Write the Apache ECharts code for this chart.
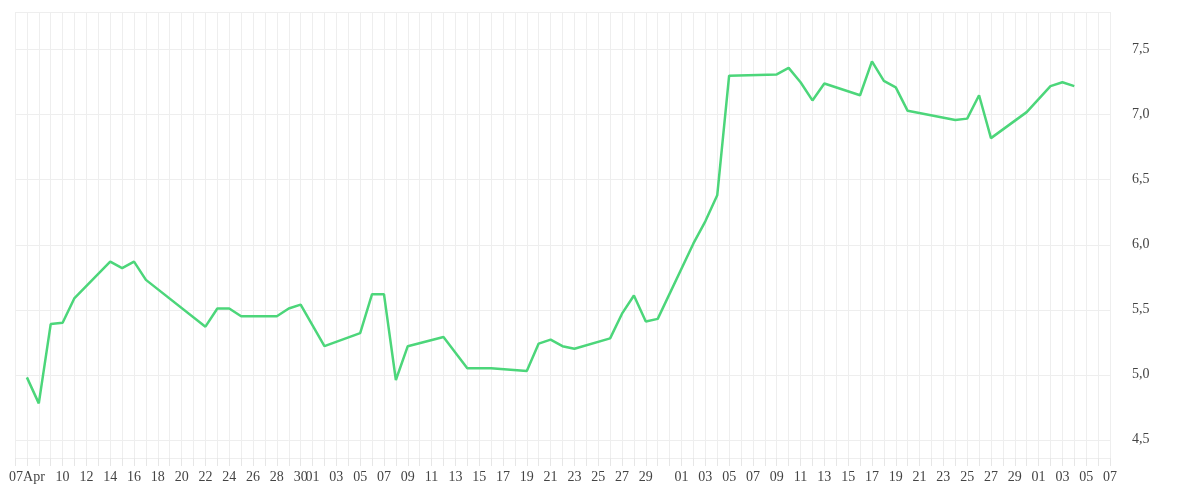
<!DOCTYPE html>
<html><head><meta charset="utf-8">
<script src="https://cdn.jsdelivr.net/npm/echarts@6/dist/echarts.min.js"></script>
<style>html,body{margin:0;padding:0;background:#fff}#c{width:1200px;height:500px}</style>
</head><body><div id="c"></div>
<script>
const pointDates = ['04-07','04-08','04-09','04-10','04-11','04-14','04-15','04-16','04-17','04-22','04-23','04-24','04-25','04-28','04-29','04-30','05-02','05-05','05-06','05-07','05-08','05-09','05-12','05-14','05-16','05-19','05-20','05-21','05-22','05-23','05-26','05-27','05-28','05-29','05-30','06-02','06-03','06-04','06-05','06-09','06-10','06-11','06-12','06-13','06-16','06-17','06-18','06-19','06-20','06-24','06-25','06-26','06-27','06-30','07-02','07-03','07-04'];
const pointValues = [4.98,4.78,5.39,5.40,5.59,5.87,5.82,5.87,5.73,5.37,5.51,5.51,5.45,5.45,5.51,5.54,5.22,5.32,5.62,5.62,4.96,5.22,5.29,5.05,5.05,5.03,5.24,5.27,5.22,5.20,5.28,5.47,5.61,5.41,5.43,6.01,6.18,6.38,7.30,7.31,7.36,7.25,7.11,7.24,7.15,7.41,7.26,7.21,7.03,6.96,6.97,7.15,6.82,7.02,7.22,7.25,7.22];
const yLabels = [4.5,5.0,5.5,6.0,6.5,7.0,7.5];

// daily categories Apr 6 .. Jul 7
const days = [];
const monthLen = {4:30,5:31,6:30,7:31};
for (let m=4,d=6;;){ days.push(String(m).padStart(2,'0')+'-'+String(d).padStart(2,'0')); if(m===7&&d===7)break; d++; if(d>monthLen[m]){d=1;m++;} }
const map = {}; pointDates.forEach((k,i)=>map[k]=pointValues[i]);
const lineData = days.map(k => k in map ? map[k] : null);

function xLabel(v){
  const [m,d] = v.split('-').map(Number);
  if (m===4 && d===7) return '07Apr';
  if (m===4) return (d>=10 && d%2===0) ? String(d).padStart(2,'0') : '';
  if (d===31 || d===30) return '';
  return d%2===1 ? String(d).padStart(2,'0') : '';
}

const chart = echarts.init(document.getElementById('c'));
chart.setOption({
  animation:false,
  grid:{left:15,right:90,top:12,bottom:42,containLabel:false},
  xAxis:{type:'category',data:days,boundaryGap:false,
    axisLine:{show:false},
    axisTick:{show:true,interval:0,length:8,lineStyle:{color:'#e6e6e6'}},
    splitLine:{show:true,interval:0,lineStyle:{color:'#eeeeee'}},
    axisLabel:{interval:0,formatter:xLabel,color:'#444',fontFamily:'Liberation Serif',fontSize:14,margin:12}},
  yAxis:{type:'value',position:'right',min:4.36,max:7.79,
    axisLine:{show:false},
    axisTick:{show:false,customValues:[4.36,4.5,5,5.5,6,6.5,7,7.5,7.79]},
    splitLine:{show:true,lineStyle:{color:'#eeeeee'}},
    axisLabel:{customValues:yLabels,color:'#444',fontFamily:'Liberation Serif',fontSize:14,margin:22,
      formatter:v=>v.toFixed(1).replace('.',',')}},
  series:[{type:'line',data:lineData,connectNulls:true,showSymbol:false,
    lineStyle:{color:'#4cd67a',width:2.5},itemStyle:{color:'#4cd67a'}}]
});
</script></body></html>
